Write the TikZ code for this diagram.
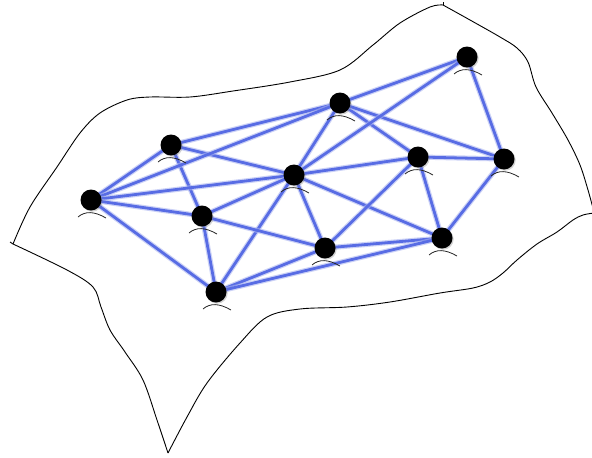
\documentclass[tikz,border=0pt]{standalone}
\usetikzlibrary{backgrounds,shadows}
\definecolor{edgeblue}{RGB}{88,108,228}
\definecolor{glowblue}{RGB}{170,180,240}
\tikzset{
  ball/.style={circle, fill=black, minimum size=21pt, inner sep=0pt,
    drop shadow={shadow xshift=1.2pt, shadow yshift=-1.2pt, opacity=0.35, fill=gray}},
  edge/.style={edgeblue, line width=2.8pt,
    preaction={draw=glowblue, line width=5.2pt, opacity=0.6}},
  hat/.style={black!85, line width=0.8pt},
  border/.style={black, line width=0.9pt, line join=round}
}
\begin{document}
\begin{tikzpicture}[x=1pt,y=-1pt]
\useasboundingbox (0,0) rectangle (592,458);
\clip (0,0) rectangle (592,458);
% surface outline
\draw[border] plot[smooth, tension=0.55] coordinates {(13,244) (30,207) (57,167) (80,133) (100,113) (127,100) (150,97) (190,97) (233,91) (290,82) (340,70) (373,45) (400,23) (430,7) (443,5)};
\draw[border] (443,5) -- (443,2);
\draw[border] plot[smooth, tension=0.55] coordinates {(443,5) (470,20) (500,37) (517,48) (528,62) (536,87) (552,113) (568,140) (580,165) (588,190) (594,212)};
\draw[border] plot[smooth, tension=0.55] coordinates {(594,213) (583,215) (573,220) (557,232) (537,244) (517,260) (503,273) (490,282) (473,288) (440,293) (390,302) (347,307) (300,309) (267,317) (240,343) (207,383) (187,417) (168,453)};
\draw[border] plot[smooth, tension=0.55] coordinates {(168,453) (157,420) (143,380) (125,352) (110,330) (101,307) (93,287) (67,270) (13,244)};
\draw[border] (13,244) -- (10,242);
% nodes
\node[ball] (A) at (467,57) {};
\node[ball] (B) at (340,103) {};
\node[ball] (C) at (171,145) {};
\node[ball] (D) at (294,175) {};
\node[ball] (E) at (418,157) {};
\node[ball] (F) at (504,159) {};
\node[ball] (G) at (91,200) {};
\node[ball] (H) at (202,216) {};
\node[ball] (I) at (325,248) {};
\node[ball] (J) at (442,238) {};
\node[ball] (K) at (216,292) {};
% hats
\foreach \n in {A,B,C,D,E,F,G,H,I,J,K}{
  \draw[hat] ([shift={(-13,17)}]\n.center) .. controls ([shift={(-6,11)}]\n.center) and ([shift={(3,11)}]\n.center) .. ([shift={(15,18)}]\n.center);
}
% edges
\begin{pgfonlayer}{background}
\foreach \a/\b in {C/B,C/D,C/G,C/H,G/B,G/D,G/H,G/K,B/D,B/A,B/E,B/F,A/D,A/F,D/E,D/H,D/I,D/K,D/J,E/F,E/I,E/J,F/J,H/I,H/K,I/K,I/J,K/J}{
  \draw[edge] (\a.center) -- (\b.center);
}
\end{pgfonlayer}
\end{tikzpicture}
\end{document}
